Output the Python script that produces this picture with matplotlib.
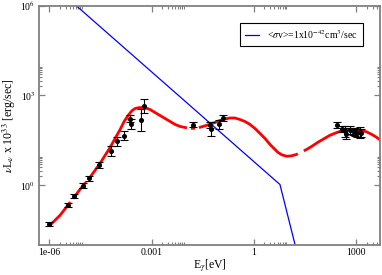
import numpy as np
import matplotlib
matplotlib.use("Agg")
from matplotlib import pyplot as plt

plt.rcParams['font.family'] = ['Liberation Serif', 'DejaVu Serif']
plt.rcParams['mathtext.fontset'] = 'stix'

# observed points (E in eV, nuL_nu in 1e33 erg/s) with error bar ends
data_x = [1.0e-6, 3.44e-6, 5.5e-6, 9.7e-6, 1.5e-5, 2.9e-5, 6.3e-5, 1.0e-4, 1.57e-4,
          2.27e-4, 2.46e-4, 4.8e-4, 6.0e-4,
          0.0167, 0.052, 0.055, 0.0964, 0.121,
          281, 394, 460, 516, 644, 804, 902, 1052, 1260, 1413]
data_y = [0.0486, 0.22, 0.42, 0.95, 1.71, 4.6, 13.5, 29, 44,
          163, 113, 145, 433,
          104, 99, 77, 107, 178,
          99, 77, 62, 51, 71, 62, 58, 55, 59, 55]
data_lo = [0.0417, 0.189, 0.36, 0.78, 1.41, 3.66, 9.2, 20.6, 31,
           125, 77, 62, 253,
           86, 79, 45, 76, 141,
           78, 61, 41, 33.5, 52, 46, 43, 40, 39, 40]
data_hi = [0.0567, 0.257, 0.49, 1.15, 2.07, 5.8, 19.8, 41, 62,
           213, 166, 337, 740,
           126, 125, 132, 151, 224,
           127, 97, 93, 78, 96, 84, 79, 75, 89, 75]

# model curve (red), nan marks the small breaks in the line
model_x = [1.0e-6, 2.1e-6, 4.12e-6, np.nan,
           5.04e-6, 8.07e-6, 1.21e-5, np.nan,
           1.38e-5, 1.58e-5, 3.11e-5, 4.35e-5, 6.1e-5, 8.55e-5, 1.2e-4, 1.57e-4,
           2.05e-4, 2.69e-4, 3.29e-4, 4.16e-4, 5.27e-4, 6.9e-4, 9.04e-4, 1.26e-3,
           1.77e-3, 2.48e-3, 3.48e-3, 4.86e-3, 6.82e-3, 0.0109, np.nan,
           0.0143, 0.0188, np.nan,
           0.0245, 0.0514, 0.0721, 0.101, 0.142, 0.198, 0.277, 0.389, 0.545,
           0.762, 1.07, 1.50, 2.10, 2.94, 3.84, 5.03, 6.59, 9.23, 12.9, 18.1,
           19.4, np.nan,
           29.0, 35.5, 49.8, 74.5, 112, 167, 251, 402, 526, 737, 1033, 1445,
           2024, 2840, 3970, 5200]
model_y = [0.0434, 0.1, 0.272, np.nan,
           0.356, 0.736, 1.26, np.nan,
           1.52, 1.85, 5.39, 9.94, 18.3, 36.5, 72.7, 134,
           212, 311, 363, 386, 392, 377, 336, 267,
           212, 169, 134, 107, 91.5, 81.6, np.nan,
           78.5, 79.7, np.nan,
           83.5, 107, 124, 145, 162, 175, 175, 156, 134,
           107, 78.5, 53.5, 36.5, 23.1, 17.0, 12.5, 10.3, 9.2, 9.57, 10.7,
           11.2, np.nan,
           14.0, 15.7, 19.8, 26.9, 35.2, 45.9, 55.6, 67.3, 71.1, 72.7, 71.6, 67.3,
           60.1, 49.6, 39.4, 31.3]

# annihilation curve (blue)
ann_x = [1e-6, 5.8, 16, 40]
ann_y = [6.1e6, 1.05, 0.0105, 1.5e-4]

xticks = [1e-6, 1e-3, 1, 1e3]
xtick_labels = ["1e-06", "0.001", "1", "1000"]
yticks = [1e0, 1e3, 1e6]
ytick_labels = [r"10$^{0}$", r"10$^{3}$", r"10$^{6}$"]

fig = plt.figure(figsize=(3.82, 2.75), dpi=100)
ax = fig.add_axes([0.102, 0.109, 0.893, 0.871])

ax.plot(ann_x, ann_y, color='#0000ff', lw=0.9,
        label=r'<$\sigma$v>=1x10$^{-42}$cm$^{3}$/sec')
ax.plot(model_x, model_y, color='#ff0000', lw=2.0, solid_capstyle='butt',
        solid_joinstyle='round')

y = np.array(data_y)
yerr = [y - np.array(data_lo), np.array(data_hi) - y]
ax.errorbar(data_x, data_y, yerr=yerr, fmt='o', color='black', ms=2.6,
            elinewidth=0.8, capsize=2.6, capthick=0.8)

ax.set_xscale('log')
ax.set_yscale('log')
ax.set_xlim(5e-7, 5000)
ax.set_ylim(1e-2, 1e6)

ax.set_xticks(xticks)
ax.set_xticklabels(xtick_labels)
ax.set_yticks(yticks)
ax.set_yticklabels(ytick_labels)

xminor = [k * m for m in xticks for k in range(2, 10)]
xminor = [v for v in xminor if v < 5000]
yminor = [k * m for m in yticks for k in range(2, 10)]
yminor = [v for v in yminor if v < 1e6]
ax.set_xticks(xminor, minor=True)
ax.set_yticks(yminor, minor=True)
ax.xaxis.set_minor_formatter(matplotlib.ticker.NullFormatter())
ax.yaxis.set_minor_formatter(matplotlib.ticker.NullFormatter())

ax.tick_params(which='both', direction='in', top=True, right=True,
               color='#808080', labelsize=7, pad=2.5)
ax.tick_params(which='major', length=4.5, width=0.9)
ax.tick_params(which='minor', length=2.5, width=0.8)
for s in ax.spines.values():
    s.set_color('#808080')
    s.set_linewidth(1.3)

ax.set_xlabel(r'E$_\gamma$[eV]', fontsize=8.5, labelpad=0)
ax.set_ylabel(r'$\nu$L$_\nu$ x 10$^{33}$ [erg/sec]', fontsize=8.5, labelpad=2)

leg = ax.legend(loc='upper right', bbox_to_anchor=(363 / 382, 1 - 23 / 275),
                bbox_transform=fig.transFigure, fontsize=7, frameon=True,
                fancybox=False, edgecolor='black', framealpha=1,
                handlelength=1.4, handletextpad=0.9, borderpad=0.5,
                borderaxespad=0)
leg.get_frame().set_linewidth(0.8)

fig.savefig('out.png', dpi=100)
